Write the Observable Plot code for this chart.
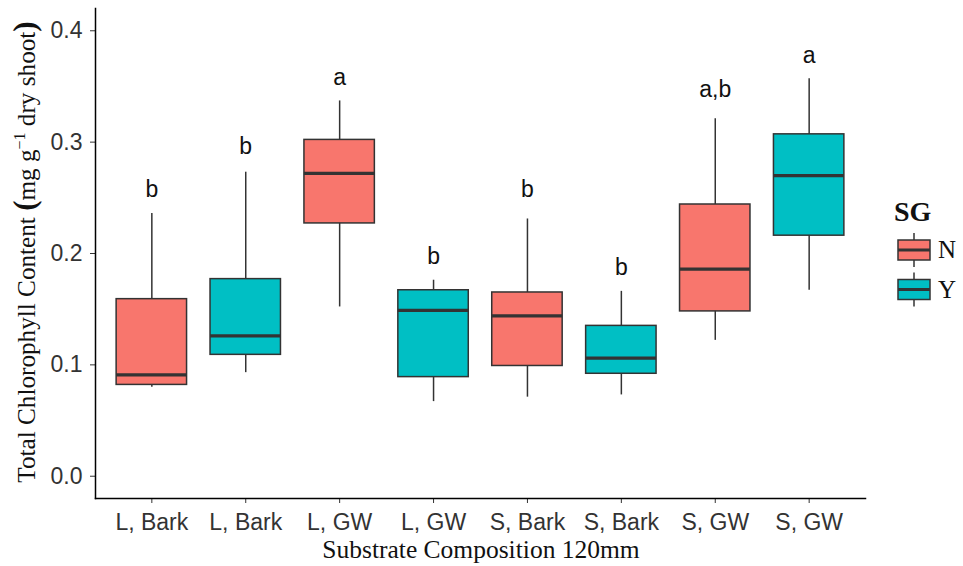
<!DOCTYPE html>
<html>
<head>
<meta charset="utf-8">
<script src="https://cdn.jsdelivr.net/npm/d3@7"></script>
<script src="https://cdn.jsdelivr.net/npm/@observablehq/plot@0.6"></script>
<style>
  html, body { margin: 0; padding: 0; background: #fff; }
  #chart svg { display: block; }
</style>
</head>
<body>
<div id="chart"></div>
<script>
// Substrate treatment for each box, and its SG group
const substrate = ["L, Bark", "L, Bark", "L, GW", "L, GW", "S, Bark", "S, Bark", "S, GW", "S, GW"];
const sg = ["N", "Y", "N", "Y", "N", "Y", "N", "Y"];

// Five-number summaries of total chlorophyll content (mg g^-1 dry shoot)
const whiskerLow  = [0.080, 0.093, 0.152, 0.067, 0.071, 0.073, 0.122, 0.167];
const q1          = [0.082, 0.109, 0.227, 0.089, 0.099, 0.092, 0.148, 0.216];
const median      = [0.091, 0.126, 0.272, 0.149, 0.144, 0.106, 0.186, 0.270];
const q3          = [0.159, 0.177, 0.302, 0.167, 0.165, 0.135, 0.244, 0.307];
const whiskerHigh = [0.236, 0.273, 0.337, 0.176, 0.231, 0.166, 0.321, 0.357];

// Significance letters and the height at which each is written
const letters = ["b", "b", "a", "b", "b", "b", "a,b", "a"];
const letterY = [0.257, 0.296, 0.358, 0.197, 0.257, 0.187, 0.347, 0.378];

const yTicks = [0, 0.1, 0.2, 0.3, 0.4];
const sgDomain = ["N", "Y"];
const sgColors = ["#F8766D", "#00BFC4"];

const rows = substrate.map((s, i) => ({
  id: i, substrate: s, sg: sg[i],
  lo: whiskerLow[i], q1: q1[i], med: median[i], q3: q3[i], hi: whiskerHigh[i],
  letter: letters[i], ly: letterY[i]
}));

const W = 963, H = 566;
const boxStroke = "#333333";

const chart = Plot.plot({
  width: W,
  height: H,
  marginLeft: 95,
  marginRight: 98,
  marginTop: 8,
  marginBottom: 68,
  style: {
    fontFamily: "'Liberation Sans', Arial, sans-serif",
    fontSize: "23px",
    background: "#fff",
    color: "#333"
  },
  x: {
    type: "band",
    domain: d3.range(substrate.length),
    paddingInner: 0.25,
    paddingOuter: 0.225,
    round: false,
    axis: null
  },
  y: { domain: [-0.02, 0.42], axis: null },
  color: { domain: sgDomain, range: sgColors },
  marks: [
    Plot.axisY({
      ticks: yTicks, tickFormat: d3.format(".1f"),
      tickSize: 5, tickPadding: 8, label: null,
      stroke: "#333", fill: "#333"
    }),
    Plot.axisX({
      tickFormat: i => substrate[i],
      tickSize: 5, tickPadding: 10, label: null,
      stroke: "#333", fill: "#333"
    }),
    Plot.frame({ anchor: "left", stroke: "#000", strokeWidth: 1.5 }),
    Plot.frame({ anchor: "bottom", stroke: "#000", strokeWidth: 1.5 }),
    // whiskers
    Plot.ruleX(rows, { x: "id", y1: "lo", y2: "hi", stroke: boxStroke, strokeWidth: 1.5 }),
    // interquartile boxes
    Plot.barY(rows, {
      x: "id", y1: "q1", y2: "q3", fill: "sg",
      stroke: boxStroke, strokeWidth: 1.5
    }),
    // medians
    Plot.tickY(rows, { x: "id", y: "med", stroke: boxStroke, strokeWidth: 3.2 }),
    // letters
    Plot.text(rows, {
      x: "id", y: "ly", text: "letter", fontSize: 23, fill: "#111",
      fontFamily: "'Liberation Sans', Arial, sans-serif"
    })
  ]
});

document.getElementById("chart").appendChild(chart);

const svg = d3.select(chart);
const serif = "'Liberation Serif', 'Times New Roman', serif";

// x axis title
svg.append("text")
  .attr("x", 481).attr("y", 558)
  .attr("text-anchor", "middle")
  .attr("font-family", serif).attr("font-size", 25.5).attr("fill", "#111")
  .text("Substrate Composition 120mm");

// y axis title with superscript unit
const yt = svg.append("text")
  .attr("transform", "translate(35,252) rotate(-90)")
  .attr("text-anchor", "middle")
  .attr("font-family", serif).attr("font-size", 25.2).attr("fill", "#111");
yt.append("tspan").text("Total Chlorophyll Content ");
yt.append("tspan").attr("font-size", 31).attr("font-weight", "bold").text("(");
yt.append("tspan").text("mg g");
yt.append("tspan").attr("font-size", 16).attr("dy", -10).text("\u22121");
yt.append("tspan").attr("dy", 10).text(" dry shoot");
yt.append("tspan").attr("font-size", 31).attr("font-weight", "bold").text(")");

// legend
const lg = svg.append("g").attr("text-anchor", "start");
lg.append("text")
  .attr("x", 894).attr("y", 221)
  .attr("font-family", serif).attr("font-size", 28).attr("font-weight", "bold")
  .attr("fill", "#111").text("SG");
sgDomain.forEach((k, i) => {
  const top = 233 + i * 39.5;
  const g = lg.append("g").attr("transform", `translate(898,${top})`);
  g.append("line").attr("x1", 16).attr("x2", 16).attr("y1", 0).attr("y2", 34)
    .attr("stroke", boxStroke).attr("stroke-width", 1.5);
  g.append("rect").attr("x", 0).attr("y", 7).attr("width", 32).attr("height", 20)
    .attr("fill", sgColors[i]).attr("stroke", boxStroke).attr("stroke-width", 1.5);
  g.append("line").attr("x1", 0).attr("x2", 32).attr("y1", 17).attr("y2", 17)
    .attr("stroke", boxStroke).attr("stroke-width", 3);
  lg.append("text")
    .attr("x", 938).attr("y", top + 25)
    .attr("font-family", serif).attr("font-size", 25).attr("fill", "#111")
    .text(k);
});
</script>
</body>
</html>
